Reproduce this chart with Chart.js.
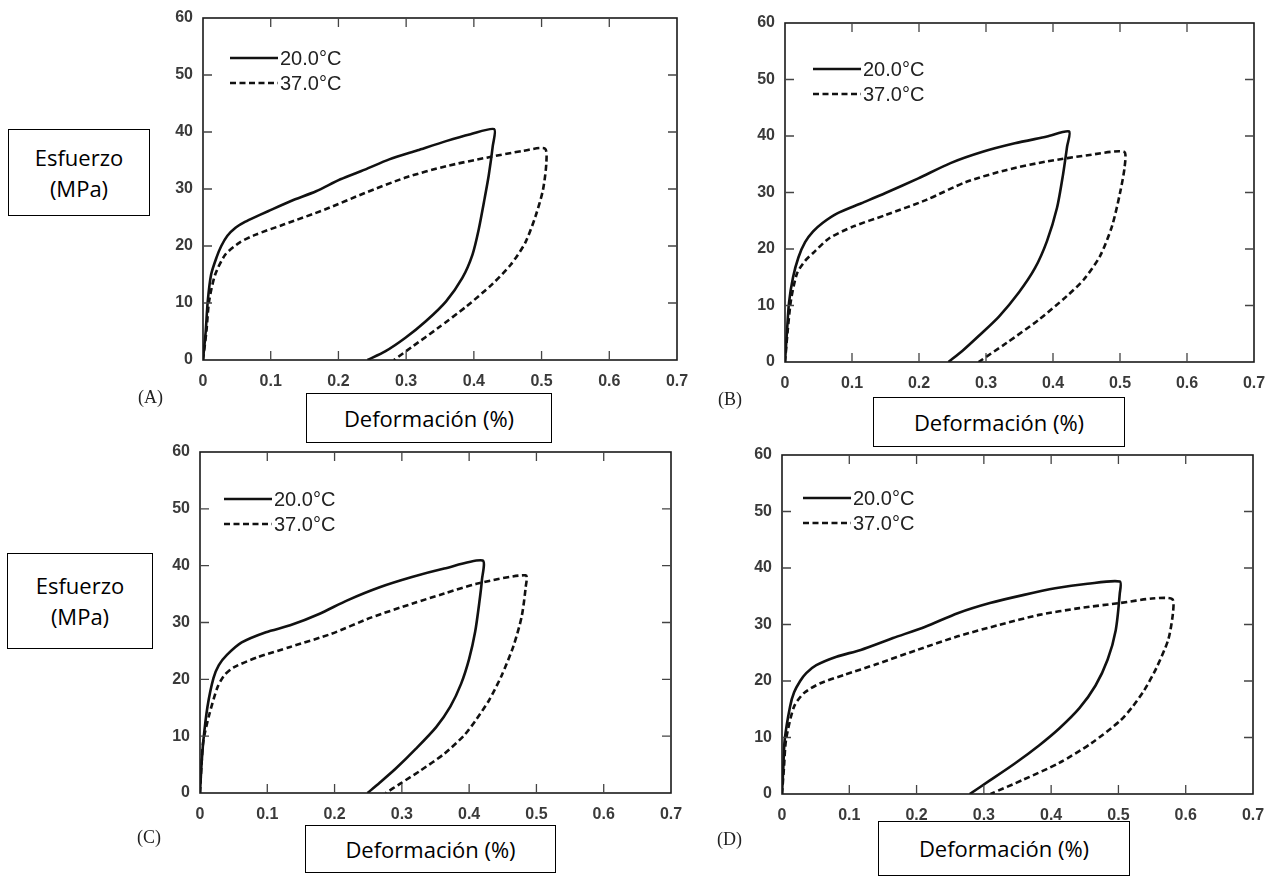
<!DOCTYPE html>
<html>
<head>
<meta charset="utf-8">
<script src="https://cdn.jsdelivr.net/npm/chart.js@4.4.1/dist/chart.umd.min.js"></script>
<style>
  body { margin: 0; background: #fff; }
  #page { position: relative; width: 1268px; height: 876px; overflow: hidden; background: #fff; }
  canvas { position: absolute; }
  .box { position: absolute; border: 1px solid #000; background: #fff; box-sizing: border-box;
         display: flex; align-items: center; justify-content: center; text-align: center;
         font-family: "Open Sans", sans-serif; font-size: 22px; line-height: 31px; color: #000; }
  .tag { position: absolute; font-family: "Liberation Serif", serif; font-size: 18px; color: #222; }
</style>
</head>
<body>
<div id="page">
  <canvas id="cA"></canvas>
  <canvas id="cB"></canvas>
  <canvas id="cC"></canvas>
  <canvas id="cD"></canvas>

  <div class="box" style="left:8px;top:129px;width:142px;height:87px;">Esfuerzo<br>(MPa)</div>
  <div class="box" style="left:7px;top:553px;width:146px;height:96px;">Esfuerzo<br>(MPa)</div>
  <div class="box" style="left:306px;top:393px;width:246px;height:50px;">Deformación (%)</div>
  <div class="box" style="left:873px;top:397px;width:252px;height:50px;">Deformación (%)</div>
  <div class="box" style="left:305px;top:825px;width:251px;height:48px;">Deformación (%)</div>
  <div class="box" style="left:878px;top:821px;width:252px;height:55px;">Deformación (%)</div>

  <div class="tag" style="left:138px;top:387px;">(A)</div>
  <div class="tag" style="left:718px;top:389px;">(B)</div>
  <div class="tag" style="left:137px;top:827px;">(C)</div>
  <div class="tag" style="left:717px;top:829px;">(D)</div>
</div>
<script>
// series labels
var seriesLabels = ['20.0°C', '37.0°C'];
var xTicks = [0, 0.1, 0.2, 0.3, 0.4, 0.5, 0.6, 0.7];
var yTicks = [0, 10, 20, 30, 40, 50, 60];

// (A)
var aSolidX = [0, 0.004, 0.007, 0.012, 0.02, 0.027, 0.036, 0.048, 0.06, 0.072, 0.096, 0.13, 0.167, 0.203, 0.239, 0.275, 0.317, 0.359, 0.395, 0.43, 0.428, 0.422, 0.416, 0.407, 0.398, 0.383, 0.359, 0.329, 0.299, 0.269, 0.243];
var aSolidY = [0, 5, 10.3, 15, 18, 20, 21.8, 23.2, 24.1, 24.8, 26.1, 27.9, 29.6, 31.7, 33.4, 35.2, 36.8, 38.4, 39.6, 40.5, 37.6, 32.4, 28.4, 22.8, 18.5, 14.4, 10.3, 6.8, 3.9, 1.5, 0];
var aDashX = [0, 0.005, 0.009, 0.018, 0.033, 0.054, 0.078, 0.12, 0.18, 0.239, 0.299, 0.359, 0.419, 0.473, 0.505, 0.507, 0.502, 0.491, 0.476, 0.455, 0.428, 0.389, 0.347, 0.311, 0.282];
var aDashY = [0, 5, 10.3, 15, 18.5, 20.6, 22, 23.8, 26.4, 29.3, 32, 34, 35.5, 36.7, 37.1, 34.5, 29.8, 25.2, 20.6, 16.8, 13.4, 9.4, 5.6, 2.5, 0];

// (B)
var bSolidX = [0, 0.003, 0.006, 0.012, 0.02, 0.03, 0.042, 0.056, 0.078, 0.114, 0.15, 0.199, 0.247, 0.295, 0.343, 0.391, 0.424, 0.421, 0.415, 0.406, 0.391, 0.373, 0.349, 0.319, 0.289, 0.265, 0.244];
var bSolidY = [0, 5.5, 10.5, 15, 18.5, 21.2, 23.1, 24.6, 26.3, 28.1, 29.9, 32.5, 35.2, 37.2, 38.7, 39.9, 40.8, 38.1, 33.2, 27.3, 21.4, 16.6, 12.3, 8.0, 4.6, 2.0, 0];
var bDashX = [0, 0.004, 0.009, 0.018, 0.03, 0.042, 0.066, 0.102, 0.15, 0.211, 0.271, 0.331, 0.391, 0.452, 0.506, 0.507, 0.5, 0.488, 0.47, 0.446, 0.421, 0.379, 0.331, 0.289];
var bDashY = [0, 5.5, 11, 15.7, 17.9, 19.3, 21.9, 24, 26, 28.7, 31.9, 34, 35.5, 36.6, 37.2, 34.6, 29.9, 24, 18.7, 14.6, 11.7, 7.5, 3.4, 0];

// (C)
var cSolidX = [0, 0.002, 0.005, 0.011, 0.02, 0.028, 0.04, 0.062, 0.098, 0.134, 0.177, 0.219, 0.267, 0.315, 0.363, 0.42, 0.419, 0.415, 0.409, 0.4, 0.388, 0.372, 0.351, 0.321, 0.291, 0.267, 0.249];
var cSolidY = [0, 4.5, 9.2, 15.1, 20.2, 22.5, 24.3, 26.5, 28.3, 29.5, 31.5, 33.9, 36.2, 38, 39.5, 40.9, 37.5, 33.4, 28.4, 23.6, 19.2, 15.2, 11.6, 7.8, 4.3, 1.8, 0];
var cDashX = [0, 0.002, 0.005, 0.014, 0.026, 0.036, 0.05, 0.086, 0.134, 0.195, 0.255, 0.315, 0.363, 0.411, 0.484, 0.484, 0.478, 0.466, 0.448, 0.43, 0.411, 0.393, 0.363, 0.327, 0.297, 0.276];
var cDashY = [0, 4.5, 9.2, 13.9, 18.6, 20.7, 22.1, 23.9, 25.7, 28, 30.9, 33.3, 35.1, 36.8, 38.3, 36.2, 31.0, 25.9, 20.6, 16.4, 13.0, 10.2, 6.9, 3.9, 1.6, 0];

// (D)
var dSolidX = [0, 0.002, 0.004, 0.012, 0.018, 0.027, 0.036, 0.051, 0.081, 0.117, 0.165, 0.213, 0.261, 0.309, 0.358, 0.406, 0.454, 0.502, 0.502, 0.496, 0.484, 0.466, 0.442, 0.412, 0.382, 0.346, 0.309, 0.279];
var dSolidY = [0, 4.8, 9.6, 15.5, 18.0, 20.0, 21.4, 22.8, 24.3, 25.5, 27.6, 29.6, 32, 33.8, 35.2, 36.4, 37.2, 37.6, 35.5, 29, 23.8, 19.2, 15.2, 11.6, 8.6, 5.4, 2.4, 0];
var dDashX = [0, 0.003, 0.006, 0.018, 0.033, 0.057, 0.093, 0.141, 0.201, 0.261, 0.322, 0.382, 0.442, 0.502, 0.55, 0.58, 0.581, 0.574, 0.556, 0.538, 0.52, 0.502, 0.46, 0.412, 0.358, 0.31];
var dDashY = [0, 4.8, 9.6, 15.5, 17.9, 19.6, 21.1, 23.0, 25.5, 27.9, 29.9, 31.7, 32.9, 33.8, 34.6, 34.5, 32, 27.3, 22.2, 18.3, 15.3, 12.9, 9, 5.5, 2.5, 0];

// plot box of each panel on the page + where its legend sits
var panels = [
  { id: 'cA', l: 203, r: 677, t: 17.5, b: 359, lx: 27, ly: 40, sx: aSolidX, sy: aSolidY, dx: aDashX, dy: aDashY },
  { id: 'cB', l: 785, r: 1254, t: 23, b: 362, lx: 28, ly: 46, sx: bSolidX, sy: bSolidY, dx: bDashX, dy: bDashY },
  { id: 'cC', l: 200, r: 671, t: 452, b: 793, lx: 24, ly: 47, sx: cSolidX, sy: cSolidY, dx: cDashX, dy: cDashY },
  { id: 'cD', l: 782, r: 1253, t: 455, b: 794, lx: 21, ly: 43, sx: dSolidX, sy: dSolidY, dx: dDashX, dy: dDashY }
];

var PAD_L = 60, PAD_T = 12, PAD_R = 14, PAD_B = 40;
var tickFont = '"Liberation Sans", Arial, sans-serif';

function zip(xs, ys) {
  var pts = [];
  for (var i = 0; i < xs.length; i++) pts.push({ x: xs[i], y: ys[i] });
  return pts;
}

// frame + inward ticks on all four sides
var frameTicks = {
  id: 'frameTicks',
  afterDraw: function(chart) {
    var ctx = chart.ctx, a = chart.chartArea;
    var xs = chart.scales.x, ys = chart.scales.y;
    var len = 9;
    ctx.save();
    ctx.strokeStyle = '#1a1a1a';
    ctx.lineWidth = 1.6;
    ctx.strokeRect(a.left, a.top, a.right - a.left, a.bottom - a.top);
    ctx.lineWidth = 1.3;
    ctx.strokeStyle = '#444';
    ctx.beginPath();
    for (var i = 1; i < xTicks.length - 1; i++) {
      var px = xs.getPixelForValue(xTicks[i]);
      ctx.moveTo(px, a.bottom); ctx.lineTo(px, a.bottom - len);
      ctx.moveTo(px, a.top); ctx.lineTo(px, a.top + len);
    }
    for (var j = 1; j < yTicks.length - 1; j++) {
      var py = ys.getPixelForValue(yTicks[j]);
      ctx.moveTo(a.left, py); ctx.lineTo(a.left + len, py);
      ctx.moveTo(a.right, py); ctx.lineTo(a.right - len, py);
    }
    ctx.stroke();
    ctx.restore();
  }
};

// legend drawn inside the plot, top-left
var innerLegend = {
  id: 'innerLegend',
  afterDraw: function(chart, args, opts) {
    var ctx = chart.ctx, a = chart.chartArea;
    var x0 = a.left + opts.lx, y0 = a.top + opts.ly;
    ctx.save();
    ctx.font = '20px ' + tickFont;
    ctx.fillStyle = '#222';
    ctx.textBaseline = 'middle';
    chart.data.datasets.forEach(function(ds, k) {
      var y = y0 + k * 25;
      ctx.strokeStyle = ds.borderColor;
      ctx.lineWidth = ds.borderWidth;
      ctx.setLineDash(ds.borderDash || []);
      ctx.beginPath();
      ctx.moveTo(x0, y); ctx.lineTo(x0 + 48, y);
      ctx.stroke();
      ctx.fillText(ds.label, x0 + 50, y + 1);
    });
    ctx.restore();
  }
};

panels.forEach(function(p) {
  var cv = document.getElementById(p.id);
  var w = Math.round((p.r - p.l) + PAD_L + PAD_R);
  var h = Math.round((p.b - p.t) + PAD_T + PAD_B);
  cv.width = w; cv.height = h;
  cv.style.left = (p.l - PAD_L) + 'px';
  cv.style.top = (p.t - PAD_T) + 'px';
  cv.style.width = w + 'px'; cv.style.height = h + 'px';

  new Chart(cv, {
    type: 'scatter',
    data: {
      datasets: [{
        label: seriesLabels[0],
        data: zip(p.sx, p.sy),
        showLine: true,
        borderColor: '#111',
        borderWidth: 2.6,
        pointRadius: 0,
        tension: 0.25
      }, {
        label: seriesLabels[1],
        data: zip(p.dx, p.dy),
        showLine: true,
        borderColor: '#111',
        borderWidth: 2.6,
        borderDash: [6, 3.5],
        pointRadius: 0,
        tension: 0.25
      }]
    },
    options: {
      responsive: false,
      animation: false,
      layout: { padding: { left: 0, top: PAD_T, right: PAD_R, bottom: 0 } },
      plugins: {
        legend: { display: false },
        tooltip: { enabled: false },
        innerLegend: { lx: p.lx, ly: p.ly }
      },
      scales: {
        x: {
          type: 'linear', min: 0, max: 0.7,
          afterFit: function(s) { s.height = PAD_B; s.paddingLeft = 0; s.paddingRight = 0; },
          afterBuildTicks: function(s) { s.ticks = xTicks.map(function(v) { return { value: v }; }); },
          grid: { display: false, drawTicks: false },
          border: { display: false },
          ticks: {
            padding: 12, color: '#3a3a3a', maxRotation: 0,
            font: { family: tickFont, size: 16, weight: 'bold' },
            callback: function(v) { return v === 0 ? '0' : v.toFixed(1); }
          }
        },
        y: {
          type: 'linear', min: 0, max: 60,
          afterFit: function(s) { s.width = PAD_L; s.paddingTop = 0; s.paddingBottom = 0; },
          afterBuildTicks: function(s) { s.ticks = yTicks.map(function(v) { return { value: v }; }); },
          grid: { display: false, drawTicks: false },
          border: { display: false },
          ticks: {
            padding: 10, color: '#3a3a3a',
            font: { family: tickFont, size: 16, weight: 'bold' }
          }
        }
      }
    },
    plugins: [frameTicks, innerLegend]
  });
});
</script>
</body>
</html>
